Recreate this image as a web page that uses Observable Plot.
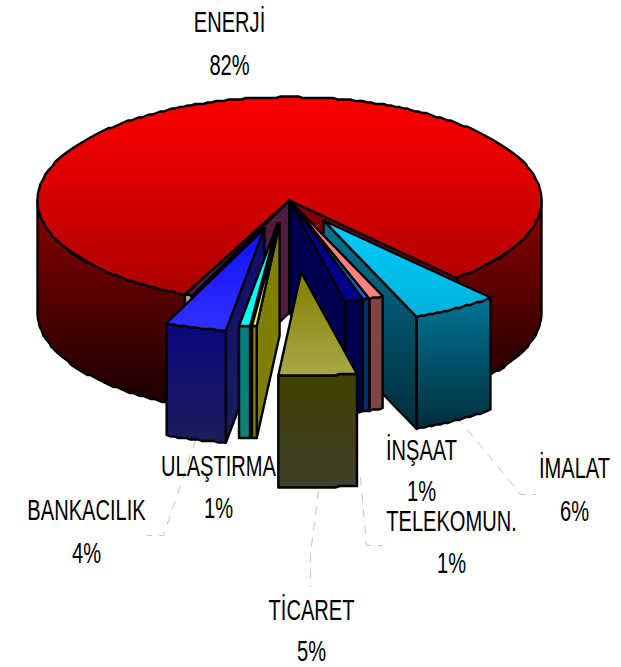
<!DOCTYPE html>
<html><head><meta charset="utf-8">
<style>html,body{margin:0;padding:0;background:#fff}svg{display:block}</style>
<script src="https://cdn.jsdelivr.net/npm/d3@7"></script>
<script src="https://cdn.jsdelivr.net/npm/@observablehq/plot@0.6"></script>
</head><body><div id="chart"></div>
<script>
// DATA (clockwise, starting at the left cut of the large slice)
const sliceNames  = ["ENERJİ","İMALAT","İNŞAAT","TELEKOMUN.","DİĞER A","TİCARET","DİĞER B","ULAŞTIRMA","BANKACILIK","DİĞER C"];
const sliceShares = [81.67, 5.5, 0.89, 0.44, 1.14, 5, 0.3, 0.7, 3.9, 0.46];
const sliceExplode = [0, 59.5, 0, 0, 0, 176, 57, 57.3, 72.5, 0];
const sliceDirection = [0, 55.1, 0, 0, 0, 86.2, 100, 102, 110.2, 0];
const paintOrder = ["ENERJİ","DİĞER C","İMALAT","İNŞAAT","TELEKOMUN.","DİĞER A","BANKACILIK","ULAŞTIRMA","DİĞER B","TİCARET"];

const labelNames  = ["ENERJİ","BANKACILIK","ULAŞTIRMA","İNŞAAT","TELEKOMUN.","İMALAT","TİCARET"];
const labelValues = ["82%","4%","1%","1%","1%","6%","5%"];
const labelX      = [229,86,218,421,451,574,311];
const labelY      = [22,510,466,450,521,468,610];
const valueY      = [65,553,508,491,563,511,651];

const leaderPaths = [
  [[195,440],[163,535],[147,535]],
  [[318,490],[310,553],[310,586]],
  [[360,477],[366,545],[382,545]],
  [[457,417],[520,494],[535,494]]
];

// STYLE per slice: gradient stops for the top, the rim wall and the two cut walls
const sliceStyle = [
  {top:["#ff0000","#a80000",97,300], wall:["#900000","#1c0000",190,400], cutB:["#800000","#800000",190,400]},
  {top:["#00ccff","#00b0d8",220,320], wall:["#007494","#002c3a",300,430], cutB:["#007494","#002c3a",220,430]},
  {top:["#ff8080","#ff8080",200,300], wall:["#804444","#804444",300,410], cutB:["#804444","#804444",200,410]},
  {top:["#0070e0","#0070e0",200,300], wall:["#003070","#003070",300,410], cutB:["#003070","#003070",200,410]},
  {top:["#000090","#000090",200,300], wall:["#000050","#000050",300,410], cutB:["#000050","#000050",200,410]},
  {top:["#808000","#a8a848",272,375], wall:["#404000","#40402c",373,487]},
  {top:["#ffff00","#ffff00",220,330], wall:["#808000","#808000",320,440], cutA:["#808000","#808000",220,440]},
  {top:["#00ffff","#00ffff",220,330], wall:["#008080","#108070",320,440], cutA:["#004848","#004848",220,440]},
  {top:["#1010ff","#3030ff",228,330], wall:["#08087e","#1c1c5c",320,440], cutA:["#0c0c78","#1c1c5c",228,440]},
  {top:["#4f1c40","#4f1c40",190,300], wall:["#a4ac94","#a4ac94",290,410], cutA:["#4f1c40","#4f1c40",190,410]}
];

// PIE GEOMETRY
const cx = 289, cy = 200, R = 252, tilt = 0.41, depth = 112, startAngle = 114.5, rimSnap = 1.5;
const rad = d => d * Math.PI / 180;
const px = (a, r, o) => {
  const y = o[1] + r * tilt * Math.sin(rad(a));
  return [o[0] + r * Math.cos(rad(a)), Math.round(y / rimSnap) * rimSnap];
};

const facesBySlice = new Map();
const gradients = [];
function grad(g) {
  const id = "g" + gradients.length;
  gradients.push({id, g});
  return `url(#${id})`;
}
let angle = startAngle;
sliceShares.forEach((share, i) => {
  const a0 = angle, a1 = angle + share * 3.6;
  angle = a1;
  const st = sliceStyle[i];
  const faces = [];
  const tip = [cx + sliceExplode[i] * Math.cos(rad(sliceDirection[i])),
               cy + sliceExplode[i] * tilt * Math.sin(rad(sliceDirection[i]))];
  const down = p => [p[0], p[1] + depth];
  const arc = (from, to) => {
    const n = Math.max(1, Math.ceil(Math.abs(to - from)));
    return d3.range(n + 1).map(k => px(from + (to - from) * k / n, R, tip));
  };
  const add = (pts, fill) => faces.push({pts: [...pts, pts[0]], fill});
  const cut = (a, g) => { const e = px(a, R, tip); add([tip, e, down(e), down(tip)], grad(g)); };
  if (st.cutA && Math.cos(rad(a0)) < 0) cut(a0, st.cutA);
  if (st.cutB && Math.cos(rad(a1)) > 0) cut(a1, st.cutB);
  for (const [lo, hi] of [[0,180],[360,540]]) {
    const f = Math.max(a0, lo), t = Math.min(a1, hi);
    if (t > f) {
      const top = arc(f, t);
      add([...top, ...top.slice().reverse().map(down)], grad(st.wall));
    }
  }
  add([tip, ...arc(a0, a1)], grad(st.top));
  facesBySlice.set(sliceNames[i], faces);
});
const faces = paintOrder.flatMap(n => facesBySlice.get(n));

const leaders = leaderPaths.flatMap((p, k) => p.map(([x, y]) => ({x, y, k})));
const labels = labelNames.map((n, i) => ({n, v: labelValues[i], x: labelX[i], y: labelY[i], vy: valueY[i]}));

const font = {fontFamily: "'Liberation Sans',Arial,sans-serif", fontSize: 30, fill: "#000", textAnchor: "middle", lineAnchor: "middle"};

const chart = Plot.plot({
  width: 621, height: 667, margin: 0,
  x: {domain: [0, 621], range: [0, 621], axis: null},
  y: {domain: [0, 667], range: [0, 667], axis: null},
  marks: [
    Plot.line(leaders, {x: "x", y: "y", z: "k", stroke: "#c4c4c4", strokeWidth: 1, strokeDasharray: "8 8"}),
    ...faces.map(f => Plot.line(f.pts, {x: d => d[0], y: d => d[1], fill: f.fill, stroke: "#000", strokeWidth: 2.4, strokeLinejoin: "round", curve: "linear"})),
    Plot.text(labels, {x: "x", y: "y", text: "n", ...font}),
    Plot.text(labels, {x: "x", y: "vy", text: "v", ...font})
  ]
});
// condensed lettering: the narrow face of the original is not installed
chart.querySelectorAll("text").forEach(t => {
  const tr = t.getAttribute("transform") || "";
  const x = +t.getAttribute("x") || 0, y = +t.getAttribute("y") || 0;
  t.setAttribute("transform", `${tr} translate(${x},${y}) scale(0.67,1) translate(${-x},${-y})`);
});
const ns = "http://www.w3.org/2000/svg";
const defs = document.createElementNS(ns, "defs");
gradients.forEach(({id, g}) => {
  const lg = document.createElementNS(ns, "linearGradient");
  lg.setAttribute("id", id);
  lg.setAttribute("gradientUnits", "userSpaceOnUse");
  lg.setAttribute("x1", 0); lg.setAttribute("x2", 0);
  lg.setAttribute("y1", g[2]); lg.setAttribute("y2", g[3]);
  [[0, g[0]], [1, g[1]]].forEach(([o, c]) => {
    const s = document.createElementNS(ns, "stop");
    s.setAttribute("offset", o); s.setAttribute("stop-color", c);
    lg.appendChild(s);
  });
  defs.appendChild(lg);
});
chart.insertBefore(defs, chart.firstChild);
document.getElementById("chart").appendChild(chart);
</script></body></html>
